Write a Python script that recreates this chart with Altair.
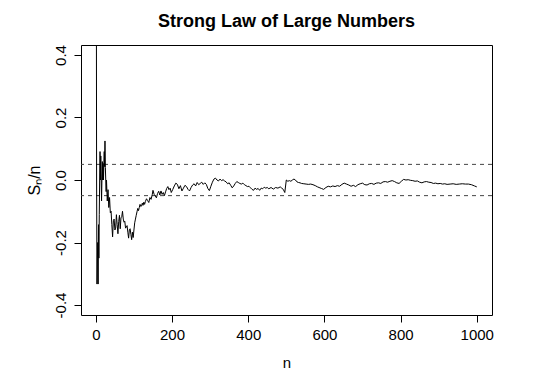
import altair as alt
import pandas as pd

n_vals = [1, 2, 3, 4, 5, 6, 7, 8, 9, 10, 11, 12, 13, 14, 15, 16, 17, 18, 19, 20,
          21, 22, 23, 24, 25, 26, 27, 28, 29, 30, 32, 34, 36, 38, 40, 42, 44, 46, 48, 50,
          52, 54, 56, 58, 60, 62, 64, 66, 68, 70, 72, 74, 76, 78, 80, 82, 84, 86, 88, 90,
          92, 94, 96, 98, 100, 102, 104, 106, 108, 110, 112, 114, 116, 118, 120, 122, 124, 126, 128, 130,
          133, 136, 139, 142, 145, 148, 150, 153, 156, 159, 162, 165, 168, 171, 174, 177, 180, 183, 186, 189,
          192, 195, 198, 202, 206, 210, 214, 218, 222, 226, 230, 234, 238, 242, 246, 250, 254, 258, 262, 266,
          270, 274, 278, 282, 286, 290, 294, 298, 302, 306, 310, 314, 318, 322, 326, 330, 334, 338, 342, 346,
          350, 354, 358, 362, 366, 370, 374, 378, 382, 386, 390, 394, 398, 402, 406, 410, 414, 418, 422, 426,
          430, 434, 438, 442, 446, 450, 454, 460, 466, 472, 478, 484, 488, 492, 496, 500, 504, 508, 512, 516,
          520, 524, 528, 532, 536, 540, 546, 552, 558, 564, 570, 576, 582, 586, 592, 598, 604, 610, 616, 622,
          628, 634, 640, 646, 652, 658, 664, 670, 676, 682, 688, 694, 700, 706, 712, 718, 724, 730, 736, 742,
          748, 754, 760, 766, 772, 778, 784, 790, 796, 802, 808, 814, 820, 826, 832, 838, 844, 850, 856, 862,
          868, 874, 880, 886, 892, 898, 904, 910, 916, 922, 930, 938, 946, 954, 962, 970, 978, 986, 994, 1000]

s_vals = [1.0, 0.0, -0.333, -0.25, -0.2, -0.333, -0.143, -0.25, -0.111, 0.0, 0.091, 0.0, 0.077, 0.0, -0.067, 0.0, 0.059, 0.0, 0.053, 0.0,
          0.048, 0.091, 0.043, 0.125, 0.04, 0.0, -0.037, 0.0, -0.034, -0.067, -0.031, -0.088, -0.056, -0.105, -0.1, -0.143, -0.182, -0.13, -0.125, -0.16,
          -0.154, -0.111, -0.143, -0.172, -0.133, -0.113, -0.156, -0.121, -0.118, -0.1, -0.125, -0.135, -0.132, -0.154, -0.15, -0.146, -0.167, -0.186, -0.159, -0.156,
          -0.174, -0.191, -0.167, -0.184, -0.16, -0.137, -0.125, -0.113, -0.102, -0.091, -0.098, -0.088, -0.078, -0.085, -0.083, -0.074, -0.081, -0.071, -0.078, -0.069,
          -0.06, -0.066, -0.072, -0.056, -0.062, -0.047, -0.033, -0.046, -0.051, -0.057, -0.043, -0.036, -0.048, -0.035, -0.046, -0.04, -0.05, -0.038, -0.027, -0.021,
          -0.031, -0.026, -0.04, -0.03, -0.019, -0.01, -0.014, -0.028, -0.018, -0.035, -0.026, -0.017, -0.021, -0.03, -0.035, -0.024, -0.016, -0.012, -0.019, -0.008,
          -0.015, -0.011, -0.007, -0.014, -0.009, -0.014, -0.027, -0.034, -0.02, -0.007, 0.003, 0.006, 0.0, -0.003, 0.003, -0.002, 0.001, -0.003, -0.006, -0.012,
          -0.009, -0.017, -0.025, -0.019, -0.011, -0.005, -0.008, -0.011, -0.013, -0.01, -0.015, -0.018, -0.021, -0.02, -0.025, -0.03, -0.033, -0.026, -0.03, -0.027,
          -0.033, -0.026, -0.028, -0.023, -0.026, -0.024, -0.028, -0.024, -0.029, -0.024, -0.026, -0.022, -0.026, -0.03, -0.04, 0.0, -0.004, -0.002, -0.004, 0.0,
          0.003, 0.0, -0.006, -0.008, -0.009, -0.011, -0.012, -0.013, -0.014, -0.013, -0.015, -0.018, -0.022, -0.024, -0.027, -0.03, -0.024, -0.02, -0.022, -0.019,
          -0.021, -0.018, -0.02, -0.014, -0.01, -0.013, -0.016, -0.02, -0.017, -0.021, -0.015, -0.012, -0.01, -0.015, -0.016, -0.012, -0.011, -0.014, -0.01, -0.009,
          -0.011, -0.006, -0.005, -0.007, -0.004, -0.002, -0.005, -0.009, -0.011, -0.004, 0.002, 0.0, 0.001, -0.001, -0.002, -0.004, -0.003, -0.007, -0.009, -0.006,
          -0.005, -0.007, -0.008, -0.011, -0.01, -0.012, -0.011, -0.013, -0.012, -0.014, -0.013, -0.012, -0.014, -0.013, -0.012, -0.013, -0.013, -0.015, -0.019, -0.022]

ref_lines = [0.05, -0.05]
x_ticks = [0, 200, 400, 600, 800, 1000]
y_ticks = [-0.4, -0.2, 0.0, 0.2, 0.4]

df = pd.DataFrame({"n": n_vals, "s": s_vals})
dfh = pd.DataFrame({"h": ref_lines})

FONT = "Liberation Sans"

x_enc = alt.X("n:Q",
              scale=alt.Scale(domain=[-38.96, 1039.96], nice=False, zero=False),
              axis=alt.Axis(values=x_ticks, title="n", format="d", labelPadding=5,
                            titlePadding=13))
y_enc = alt.Y("s:Q",
              scale=alt.Scale(domain=[-0.432, 0.432], nice=False, zero=False),
              axis=alt.Axis(values=y_ticks, title="Sₙ/n", titleFontSize=16,
                            labelExpr="replace(format(datum.value, '.1f'), '\u2212', '-')",
                            labelAngle=-90, labelAlign="center", labelBaseline="bottom",
                            labelPadding=6, titlePadding=11))

line = alt.Chart(df).mark_line(color="black", strokeWidth=1, clip=True).encode(x=x_enc, y=y_enc)
rules = alt.Chart(dfh).mark_rule(color="#444444", strokeWidth=1, strokeDash=[4, 4]).encode(y="h:Q")

chart = alt.layer(rules, line).properties(
    width=411, height=270,
    autosize="none",
    padding={"left": 73, "top": 37, "right": 36, "bottom": 60},
    title=alt.TitleParams("Strong Law of Large Numbers", font=FONT, fontSize=18,
                          fontWeight="bold", color="black", anchor="middle", offset=14),
).configure_view(stroke="black", strokeWidth=1).configure_axis(
    domain=False, grid=False, tickColor="black", tickSize=7, tickWidth=1,
    labelFont=FONT, labelFontSize=15, labelColor="black",
    titleFont=FONT, titleFontSize=15, titleFontWeight="normal", titleColor="black",
)

chart.save("out.html", embed_options={"renderer": "svg", "actions": False})
